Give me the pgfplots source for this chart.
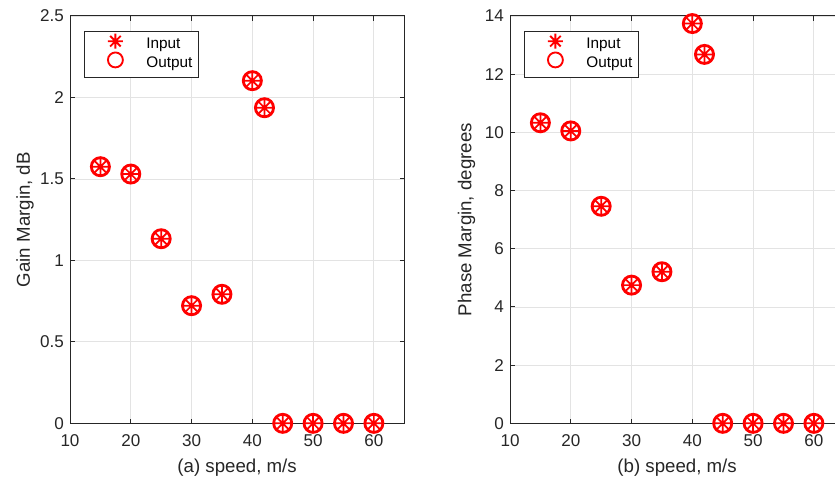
\documentclass[border=0pt]{standalone}
\usepackage{fontspec}
\setmainfont{Liberation Sans}
\usepackage{pgfplots}
\pgfplotsset{compat=1.18}
\definecolor{axgray}{HTML}{262626}
\definecolor{gridgray}{HTML}{E3E3E3}
\definecolor{mred}{HTML}{FF0000}

\pgfdeclareplotmark{mast}{%
  \pgfpathmoveto{\pgfqpoint{0pt}{\pgfplotmarksize}}\pgfpathlineto{\pgfqpoint{0pt}{-\pgfplotmarksize}}%
  \pgfpathmoveto{\pgfqpoint{\pgfplotmarksize}{0pt}}\pgfpathlineto{\pgfqpoint{-\pgfplotmarksize}{0pt}}%
  \pgfpathmoveto{\pgfqpoint{.7071\pgfplotmarksize}{.7071\pgfplotmarksize}}\pgfpathlineto{\pgfqpoint{-.7071\pgfplotmarksize}{-.7071\pgfplotmarksize}}%
  \pgfpathmoveto{\pgfqpoint{.7071\pgfplotmarksize}{-.7071\pgfplotmarksize}}\pgfpathlineto{\pgfqpoint{-.7071\pgfplotmarksize}{.7071\pgfplotmarksize}}%
  \pgfusepathqstroke}

\pgfplotstableread{
x gm pm
15 1.575 10.33
20 1.530 10.05
25 1.133 7.46
30 0.722 4.75
35 0.792 5.21
40 2.103 13.74
42 1.937 12.68
45 0 0
50 0 0
55 0 0
60 0 0
}\datatab

\pgfplotsset{
  mystyle/.style={
    scale only axis, width=250.7pt, height=305.5pt,
    xmin=10, xmax=65, ymin=0,
    xtick={10,20,...,60},
    grid=major, major grid style={gridgray, line width=0.6pt},
    axis line style={axgray, line width=0.75pt},
    tick style={axgray, line width=0.75pt},
    major tick length=3.5pt, tick align=inside,
    ticklabel style={font=\fontsize{12.8}{14}\selectfont, text=axgray},
    /pgf/number format/assume math mode=true,
    xticklabel style={yshift=-5pt},
    yticklabel style={xshift=-1pt},
    label style={font=\fontsize{14}{16}\selectfont, text=axgray},
    xlabel style={at={(axis description cs:0.5,-0.1097)}, anchor=center},
    legend cell align=left,
    legend style={at={(0.0419,0.964)}, anchor=north west, draw=axgray, line width=0.6pt,
      font=\fontsize{11.5}{13}\selectfont, text=black,
      inner xsep=4.5pt, inner ysep=2pt, row sep=-2.8pt, column sep=0pt,
      nodes={inner sep=0pt, text height=9pt, text depth=5.5pt}},
    legend image code/.code={\path[draw=none,fill=none] (-18.75pt,4pt) -- (23.25pt,4pt); \draw[##1] plot coordinates {(0pt,4pt)};},
  },
  outmark/.style={only marks, mark=o, mark size=6.8pt, mark options={mred, line width=2.1pt}},
  inmark/.style={only marks, mark=mast, mark size=6.2pt, mark options={mred, line width=1.3pt}},
  inleg/.style={only marks, draw=none, mark=mast, mark size=5.6pt, mark options={draw=mred, line width=1.4pt}},
  outleg/.style={only marks, draw=none, mark=o, mark size=5.6pt, mark options={draw=mred, line width=1.4pt}},
}

\begin{document}
\begin{tikzpicture}
\path[use as bounding box] (0,0) rectangle (626.25pt,361.5pt);
\begin{axis}[mystyle, at={(52.5pt,44pt)}, anchor=south west,
  ymax=2.5, ytick={0,0.5,...,2.5},
  xlabel={(a) speed, m/s}, ylabel={Gain Margin, dB},
  ylabel style={at={(axis description cs:-0.1346,0.5)}, anchor=center}]
\addlegendimage{inleg}
\addlegendentry{Input}
\addlegendimage{outleg}
\addlegendentry{Output}
\addplot[inmark, forget plot] table[x=x, y=gm] {\datatab};
\addplot[outmark, forget plot] table[x=x, y=gm] {\datatab};
\end{axis}
\begin{axis}[mystyle, at={(382.5pt,44pt)}, anchor=south west,
  ymax=14, ytick={0,2,...,14},
  xlabel={(b) speed, m/s}, ylabel={Phase Margin, degrees},
  ylabel style={at={(axis description cs:-0.1297,0.5)}, anchor=center}]
\addlegendimage{inleg}
\addlegendentry{Input}
\addlegendimage{outleg}
\addlegendentry{Output}
\addplot[inmark, forget plot] table[x=x, y=pm] {\datatab};
\addplot[outmark, forget plot] table[x=x, y=pm] {\datatab};
\end{axis}
\end{tikzpicture}
\end{document}
